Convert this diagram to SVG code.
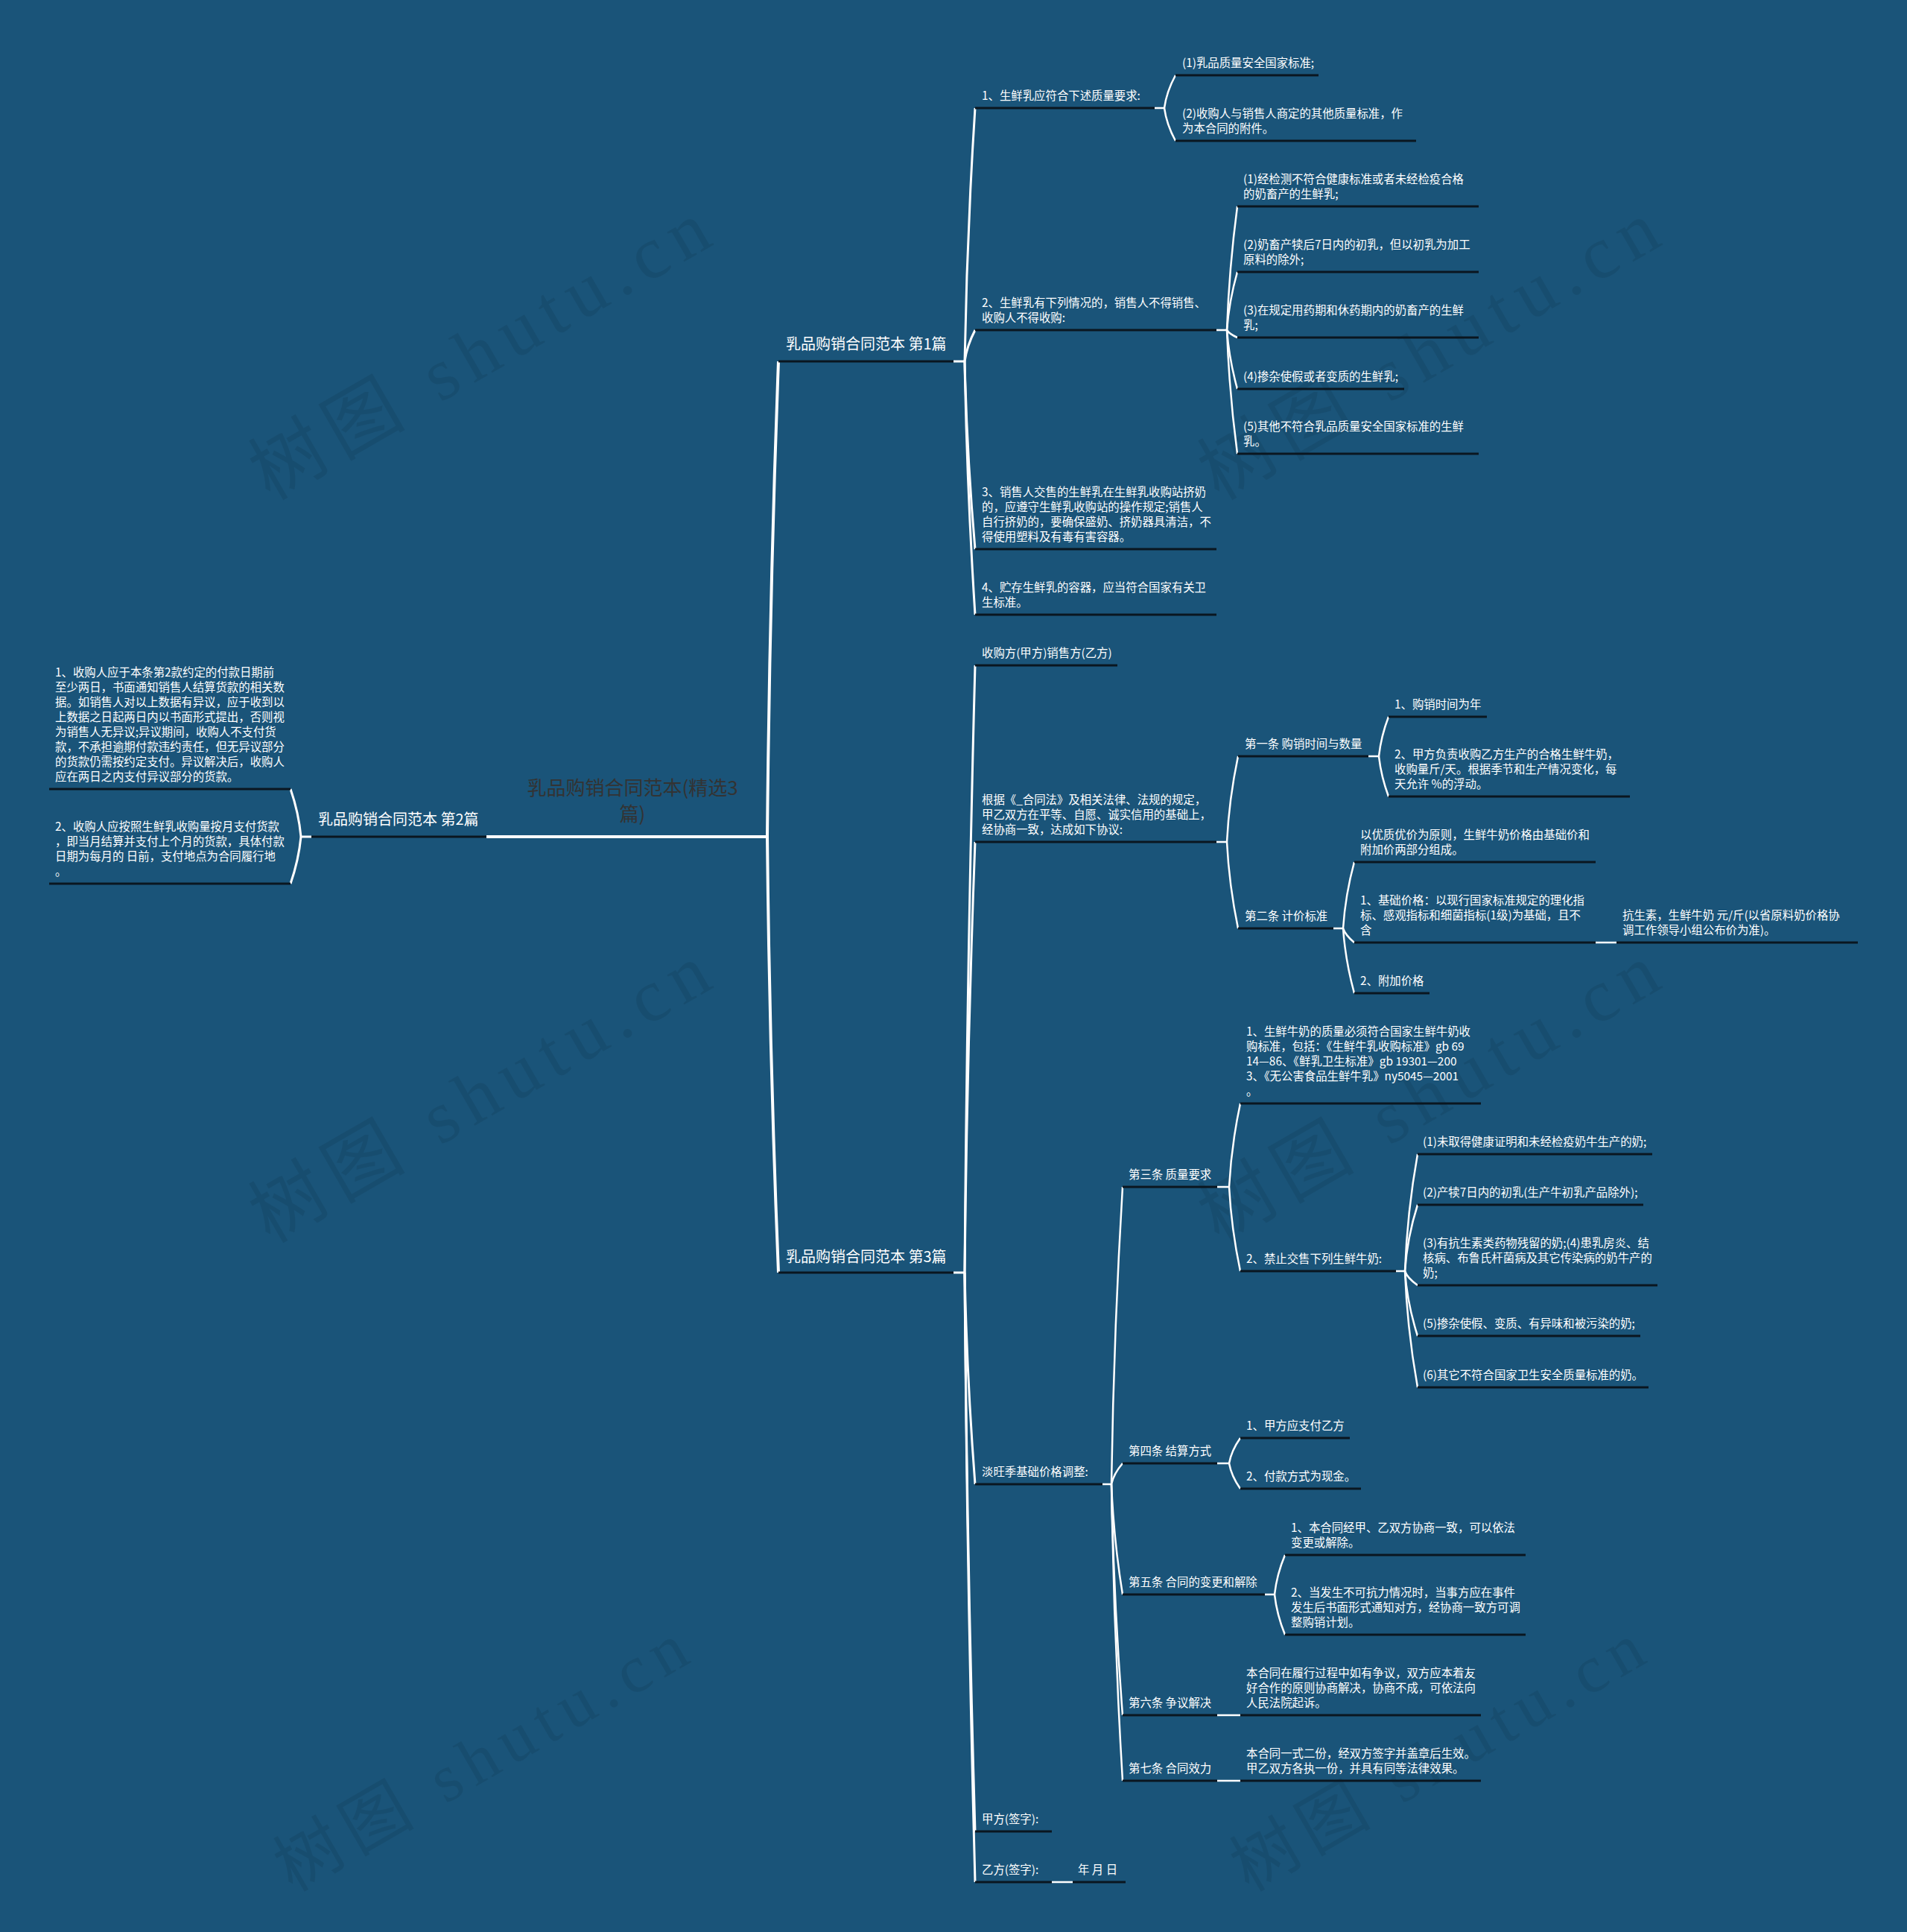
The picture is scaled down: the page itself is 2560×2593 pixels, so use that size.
<svg xmlns="http://www.w3.org/2000/svg" width="2560" height="2593" viewBox="0 0 2560 2593">
<style>
.t{font-family:"Noto Sans CJK SC","Noto Sans",sans-serif;font-size:15.4px;fill:#ffffff}
.t1{font-size:20px}
.rt{font-family:"Noto Sans CJK SC","Noto Sans",sans-serif;font-size:26px;fill:#333333;text-anchor:middle}
.ul{stroke:#0a1620;stroke-width:3;fill:none}
.c{stroke:#ffffff;stroke-width:2.5;fill:none}
.c0{stroke:#ffffff;stroke-width:4;fill:none}
.c1{stroke:#ffffff;stroke-width:3;fill:none}
.wm{font-family:"Liberation Serif","Noto Sans CJK SC",serif;font-size:100px;fill:#000000;opacity:0.08}
</style>
<rect x="0" y="0" width="2560" height="2593" fill="#1a5479"/>
<g id="watermarks">
<text class="wm" transform="translate(661 500) rotate(-30)" text-anchor="middle" textLength="690" lengthAdjust="spacing">树图 shutu.cn</text>
<text class="wm" transform="translate(1935 500) rotate(-30)" text-anchor="middle" textLength="690" lengthAdjust="spacing">树图 shutu.cn</text>
<text class="wm" transform="translate(661 1497) rotate(-30)" text-anchor="middle" textLength="690" lengthAdjust="spacing">树图 shutu.cn</text>
<text class="wm" transform="translate(1935 1497) rotate(-30)" text-anchor="middle" textLength="690" lengthAdjust="spacing">树图 shutu.cn</text>
<text class="wm" transform="translate(661 2385) rotate(-30)" text-anchor="middle" textLength="620" lengthAdjust="spacing" style="font-size:90px">树图 shutu.cn</text>
<text class="wm" transform="translate(1945 2385) rotate(-30)" text-anchor="middle" textLength="620" lengthAdjust="spacing" style="font-size:90px">树图 shutu.cn</text>
</g>
<g id="connectors">
<path class="c0" d="M653 1123H1030"/>
<path class="c0" d="M1030 1123Q1033 804 1045 485"/>
<path class="c0" d="M1030 1123Q1033 1415 1045 1708"/>
<path class="c1" d="M1280 485H1295"/>
<path class="c1" d="M1295 485Q1298 315 1309 145"/>
<path class="c1" d="M1295 485Q1298 464 1309 443"/>
<path class="c1" d="M1295 485Q1298 611 1309 737"/>
<path class="c1" d="M1295 485Q1298 655 1309 825"/>
<path class="c1" d="M418 1123H404"/>
<path class="c1" d="M404 1123Q401 1091 390 1059"/>
<path class="c1" d="M404 1123Q401 1154 390 1186"/>
<path class="c1" d="M1280 1708H1295"/>
<path class="c1" d="M1295 1708Q1298 1300 1309 893"/>
<path class="c1" d="M1295 1708Q1298 1419 1309 1130"/>
<path class="c1" d="M1295 1708Q1298 1850 1309 1992"/>
<path class="c1" d="M1295 1708Q1298 2083 1309 2458"/>
<path class="c1" d="M1295 1708Q1298 2117 1309 2526"/>
<path class="c" d="M1550 145H1563"/>
<path class="c" d="M1563 145Q1566 123 1578 101"/>
<path class="c" d="M1563 145Q1566 167 1578 189"/>
<path class="c" d="M1633 443H1647"/>
<path class="c" d="M1647 443Q1650 360 1661 277"/>
<path class="c" d="M1647 443Q1650 404 1661 365"/>
<path class="c" d="M1647 443Q1650 448 1661 453"/>
<path class="c" d="M1647 443Q1650 482 1661 522"/>
<path class="c" d="M1647 443Q1650 526 1661 609"/>
<path class="c" d="M1633 1130H1647"/>
<path class="c" d="M1647 1130Q1650 1072 1662 1015"/>
<path class="c" d="M1647 1130Q1650 1188 1662 1246"/>
<path class="c" d="M1837 1015H1851"/>
<path class="c" d="M1851 1015Q1854 988 1864 962"/>
<path class="c" d="M1851 1015Q1854 1042 1864 1069"/>
<path class="c" d="M1790 1246H1803"/>
<path class="c" d="M1803 1246Q1806 1201 1818 1157"/>
<path class="c" d="M1803 1246Q1806 1255 1818 1265"/>
<path class="c" d="M1803 1246Q1806 1289 1818 1333"/>
<path class="c" d="M2142 1265H2170"/>
<path class="c" d="M1480 1992H1492"/>
<path class="c" d="M1492 1992Q1495 1792 1507 1593"/>
<path class="c" d="M1492 1992Q1495 1978 1507 1964"/>
<path class="c" d="M1492 1992Q1495 2066 1507 2140"/>
<path class="c" d="M1492 1992Q1495 2147 1507 2302"/>
<path class="c" d="M1492 1992Q1495 2191 1507 2390"/>
<path class="c" d="M1634 1593H1650"/>
<path class="c" d="M1650 1593Q1653 1537 1665 1481"/>
<path class="c" d="M1650 1593Q1653 1649 1665 1706"/>
<path class="c" d="M1874 1706H1886"/>
<path class="c" d="M1886 1706Q1889 1627 1903 1549"/>
<path class="c" d="M1886 1706Q1889 1661 1903 1617"/>
<path class="c" d="M1886 1706Q1889 1715 1903 1725"/>
<path class="c" d="M1886 1706Q1889 1749 1903 1793"/>
<path class="c" d="M1886 1706Q1889 1784 1903 1862"/>
<path class="c" d="M1634 1964H1650"/>
<path class="c" d="M1650 1964Q1653 1947 1665 1930"/>
<path class="c" d="M1650 1964Q1653 1981 1665 1998"/>
<path class="c" d="M1698 2140H1711"/>
<path class="c" d="M1711 2140Q1714 2113 1725 2087"/>
<path class="c" d="M1711 2140Q1714 2167 1725 2194"/>
<path class="c" d="M1634 2302H1665"/>
<path class="c" d="M1634 2390H1665"/>
<path class="c" d="M1412 2526H1440"/>
</g>
<g id="root">
<text class="rt" x="849" y="1067">乳品购销合同范本(精选3</text>
<text class="rt" x="849" y="1102">篇)</text>
</g>
<g id="n-p1">
<line class="ul" x1="1045" y1="485" x2="1280" y2="485"/>
<text class="t t1" x="1055" y="469">乳品购销合同范本 第1篇</text>
</g>
<g id="n-p2">
<line class="ul" x1="418" y1="1123" x2="653" y2="1123"/>
<text class="t t1" x="427" y="1107">乳品购销合同范本 第2篇</text>
</g>
<g id="n-p3">
<line class="ul" x1="1045" y1="1708" x2="1280" y2="1708"/>
<text class="t t1" x="1055" y="1694">乳品购销合同范本 第3篇</text>
</g>
<g id="n1a">
<line class="ul" x1="1309" y1="145" x2="1550" y2="145"/>
<text class="t" x="1318" y="134">1、生鲜乳应符合下述质量要求:</text>
</g>
<g id="n1a1">
<line class="ul" x1="1578" y1="101" x2="1770" y2="101"/>
<text class="t" x="1587" y="90">(1)乳品质量安全国家标准;</text>
</g>
<g id="n1a2">
<line class="ul" x1="1578" y1="189" x2="1901" y2="189"/>
<text class="t" x="1587" y="158">(2)收购人与销售人商定的其他质量标准，作</text>
<text class="t" x="1587" y="178">为本合同的附件。</text>
</g>
<g id="n1b">
<line class="ul" x1="1309" y1="443" x2="1633" y2="443"/>
<text class="t" x="1318" y="412">2、生鲜乳有下列情况的，销售人不得销售、</text>
<text class="t" x="1318" y="432">收购人不得收购:</text>
</g>
<g id="n1b1">
<line class="ul" x1="1661" y1="277" x2="1985" y2="277"/>
<text class="t" x="1669" y="246">(1)经检测不符合健康标准或者未经检疫合格</text>
<text class="t" x="1669" y="266">的奶畜产的生鲜乳;</text>
</g>
<g id="n1b2">
<line class="ul" x1="1661" y1="365" x2="1985" y2="365"/>
<text class="t" x="1669" y="334">(2)奶畜产犊后7日内的初乳，但以初乳为加工</text>
<text class="t" x="1669" y="354">原料的除外;</text>
</g>
<g id="n1b3">
<line class="ul" x1="1661" y1="453" x2="1985" y2="453"/>
<text class="t" x="1669" y="422">(3)在规定用药期和休药期内的奶畜产的生鲜</text>
<text class="t" x="1669" y="442">乳;</text>
</g>
<g id="n1b4">
<line class="ul" x1="1661" y1="522" x2="1885" y2="522"/>
<text class="t" x="1669" y="511">(4)掺杂使假或者变质的生鲜乳;</text>
</g>
<g id="n1b5">
<line class="ul" x1="1661" y1="609" x2="1985" y2="609"/>
<text class="t" x="1669" y="578">(5)其他不符合乳品质量安全国家标准的生鲜</text>
<text class="t" x="1669" y="598">乳。</text>
</g>
<g id="n1c">
<line class="ul" x1="1309" y1="737" x2="1633" y2="737"/>
<text class="t" x="1318" y="666">3、销售人交售的生鲜乳在生鲜乳收购站挤奶</text>
<text class="t" x="1318" y="686">的，应遵守生鲜乳收购站的操作规定;销售人</text>
<text class="t" x="1318" y="706">自行挤奶的，要确保盛奶、挤奶器具清洁，不</text>
<text class="t" x="1318" y="726">得使用塑料及有毒有害容器。</text>
</g>
<g id="n1d">
<line class="ul" x1="1309" y1="825" x2="1633" y2="825"/>
<text class="t" x="1318" y="794">4、贮存生鲜乳的容器，应当符合国家有关卫</text>
<text class="t" x="1318" y="814">生标准。</text>
</g>
<g id="l1">
<line class="ul" x1="66" y1="1059" x2="390" y2="1059"/>
<text class="t" x="74" y="908">1、收购人应于本条第2款约定的付款日期前</text>
<text class="t" x="74" y="928">至少两日，书面通知销售人结算货款的相关数</text>
<text class="t" x="74" y="948">据。如销售人对以上数据有异议，应于收到以</text>
<text class="t" x="74" y="968">上数据之日起两日内以书面形式提出，否则视</text>
<text class="t" x="74" y="988">为销售人无异议;异议期间，收购人不支付货</text>
<text class="t" x="74" y="1008">款，不承担逾期付款违约责任，但无异议部分</text>
<text class="t" x="74" y="1028">的货款仍需按约定支付。异议解决后，收购人</text>
<text class="t" x="74" y="1048">应在两日之内支付异议部分的货款。</text>
</g>
<g id="l2">
<line class="ul" x1="66" y1="1186" x2="390" y2="1186"/>
<text class="t" x="74" y="1115">2、收购人应按照生鲜乳收购量按月支付货款</text>
<text class="t" x="74" y="1135">，即当月结算并支付上个月的货款，具体付款</text>
<text class="t" x="74" y="1155">日期为每月的 日前，支付地点为合同履行地</text>
<text class="t" x="74" y="1175">。</text>
</g>
<g id="m1">
<line class="ul" x1="1309" y1="893" x2="1500" y2="893"/>
<text class="t" x="1318" y="882">收购方(甲方)销售方(乙方)</text>
</g>
<g id="m2">
<line class="ul" x1="1309" y1="1130" x2="1633" y2="1130"/>
<text class="t" x="1318" y="1079">根据《_合同法》及相关法律、法规的规定，</text>
<text class="t" x="1318" y="1099">甲乙双方在平等、自愿、诚实信用的基础上，</text>
<text class="t" x="1318" y="1119">经协商一致，达成如下协议:</text>
</g>
<g id="m2a">
<line class="ul" x1="1662" y1="1015" x2="1837" y2="1015"/>
<text class="t" x="1671" y="1004">第一条 购销时间与数量</text>
</g>
<g id="m2a1">
<line class="ul" x1="1864" y1="962" x2="1996" y2="962"/>
<text class="t" x="1872" y="951">1、购销时间为年</text>
</g>
<g id="m2a2">
<line class="ul" x1="1864" y1="1069" x2="2188" y2="1069"/>
<text class="t" x="1872" y="1018">2、甲方负责收购乙方生产的合格生鲜牛奶，</text>
<text class="t" x="1872" y="1038">收购量斤/天。根据季节和生产情况变化，每</text>
<text class="t" x="1872" y="1058">天允许 %的浮动。</text>
</g>
<g id="m2b">
<line class="ul" x1="1662" y1="1246" x2="1790" y2="1246"/>
<text class="t" x="1671" y="1235">第二条 计价标准</text>
</g>
<g id="m2b1">
<line class="ul" x1="1818" y1="1157" x2="2142" y2="1157"/>
<text class="t" x="1826" y="1126">以优质优价为原则，生鲜牛奶价格由基础价和</text>
<text class="t" x="1826" y="1146">附加价两部分组成。</text>
</g>
<g id="m2b2">
<line class="ul" x1="1818" y1="1265" x2="2142" y2="1265"/>
<text class="t" x="1826" y="1214">1、基础价格：以现行国家标准规定的理化指</text>
<text class="t" x="1826" y="1234">标、感观指标和细菌指标(1级)为基础，且不</text>
<text class="t" x="1826" y="1254">含</text>
</g>
<g id="m2b2a">
<line class="ul" x1="2170" y1="1265" x2="2494" y2="1265"/>
<text class="t" x="2178" y="1234">抗生素，生鲜牛奶 元/斤(以省原料奶价格协</text>
<text class="t" x="2178" y="1254">调工作领导小组公布价为准)。</text>
</g>
<g id="m2b3">
<line class="ul" x1="1818" y1="1333" x2="1919" y2="1333"/>
<text class="t" x="1826" y="1322">2、附加价格</text>
</g>
<g id="m3">
<line class="ul" x1="1309" y1="1992" x2="1480" y2="1992"/>
<text class="t" x="1318" y="1981">淡旺季基础价格调整:</text>
</g>
<g id="m3a">
<line class="ul" x1="1507" y1="1593" x2="1634" y2="1593"/>
<text class="t" x="1515" y="1582">第三条 质量要求</text>
</g>
<g id="m3a1">
<line class="ul" x1="1665" y1="1481" x2="1988" y2="1481"/>
<text class="t" x="1673" y="1390">1、生鲜牛奶的质量必须符合国家生鲜牛奶收</text>
<text class="t" x="1673" y="1410">购标准，包括：《生鲜牛乳收购标准》gb 69</text>
<text class="t" x="1673" y="1430">14—86、《鲜乳卫生标准》gb 19301—200</text>
<text class="t" x="1673" y="1450">3、《无公害食品生鲜牛乳》ny5045—2001</text>
<text class="t" x="1673" y="1470">。</text>
</g>
<g id="m3a2">
<line class="ul" x1="1665" y1="1706" x2="1874" y2="1706"/>
<text class="t" x="1673" y="1695">2、禁止交售下列生鲜牛奶:</text>
</g>
<g id="m3a2-1">
<line class="ul" x1="1903" y1="1549" x2="2218" y2="1549"/>
<text class="t" x="1910" y="1538">(1)未取得健康证明和未经检疫奶牛生产的奶;</text>
</g>
<g id="m3a2-2">
<line class="ul" x1="1903" y1="1617" x2="2206" y2="1617"/>
<text class="t" x="1910" y="1606">(2)产犊7日内的初乳(生产牛初乳产品除外);</text>
</g>
<g id="m3a2-3">
<line class="ul" x1="1903" y1="1725" x2="2225" y2="1725"/>
<text class="t" x="1910" y="1674">(3)有抗生素类药物残留的奶;(4)患乳房炎、结</text>
<text class="t" x="1910" y="1694">核病、布鲁氏杆菌病及其它传染病的奶牛产的</text>
<text class="t" x="1910" y="1714">奶;</text>
</g>
<g id="m3a2-5">
<line class="ul" x1="1903" y1="1793" x2="2202" y2="1793"/>
<text class="t" x="1910" y="1782">(5)掺杂使假、变质、有异味和被污染的奶;</text>
</g>
<g id="m3a2-6">
<line class="ul" x1="1903" y1="1862" x2="2213" y2="1862"/>
<text class="t" x="1910" y="1851">(6)其它不符合国家卫生安全质量标准的奶。</text>
</g>
<g id="m3b">
<line class="ul" x1="1507" y1="1964" x2="1634" y2="1964"/>
<text class="t" x="1515" y="1953">第四条 结算方式</text>
</g>
<g id="m3b1">
<line class="ul" x1="1665" y1="1930" x2="1812" y2="1930"/>
<text class="t" x="1673" y="1919">1、甲方应支付乙方</text>
</g>
<g id="m3b2">
<line class="ul" x1="1665" y1="1998" x2="1827" y2="1998"/>
<text class="t" x="1673" y="1987">2、付款方式为现金。</text>
</g>
<g id="m3c">
<line class="ul" x1="1507" y1="2140" x2="1698" y2="2140"/>
<text class="t" x="1515" y="2129">第五条 合同的变更和解除</text>
</g>
<g id="m3c1">
<line class="ul" x1="1725" y1="2087" x2="2048" y2="2087"/>
<text class="t" x="1733" y="2056">1、本合同经甲、乙双方协商一致，可以依法</text>
<text class="t" x="1733" y="2076">变更或解除。</text>
</g>
<g id="m3c2">
<line class="ul" x1="1725" y1="2194" x2="2048" y2="2194"/>
<text class="t" x="1733" y="2143">2、当发生不可抗力情况时，当事方应在事件</text>
<text class="t" x="1733" y="2163">发生后书面形式通知对方，经协商一致方可调</text>
<text class="t" x="1733" y="2183">整购销计划。</text>
</g>
<g id="m3d">
<line class="ul" x1="1507" y1="2302" x2="1634" y2="2302"/>
<text class="t" x="1515" y="2291">第六条 争议解决</text>
</g>
<g id="m3d1">
<line class="ul" x1="1665" y1="2302" x2="1988" y2="2302"/>
<text class="t" x="1673" y="2251">本合同在履行过程中如有争议，双方应本着友</text>
<text class="t" x="1673" y="2271">好合作的原则协商解决，协商不成，可依法向</text>
<text class="t" x="1673" y="2291">人民法院起诉。</text>
</g>
<g id="m3e">
<line class="ul" x1="1507" y1="2390" x2="1634" y2="2390"/>
<text class="t" x="1515" y="2379">第七条 合同效力</text>
</g>
<g id="m3e1">
<line class="ul" x1="1665" y1="2390" x2="1988" y2="2390"/>
<text class="t" x="1673" y="2359">本合同一式二份，经双方签字并盖章后生效。</text>
<text class="t" x="1673" y="2379">甲乙双方各执一份，并具有同等法律效果。</text>
</g>
<g id="m4">
<line class="ul" x1="1309" y1="2458" x2="1412" y2="2458"/>
<text class="t" x="1318" y="2447">甲方(签字):</text>
</g>
<g id="m5">
<line class="ul" x1="1309" y1="2526" x2="1412" y2="2526"/>
<text class="t" x="1318" y="2515">乙方(签字):</text>
</g>
<g id="m5a">
<line class="ul" x1="1440" y1="2526" x2="1511" y2="2526"/>
<text class="t" x="1447" y="2515">年 月 日</text>
</g>
</svg>
